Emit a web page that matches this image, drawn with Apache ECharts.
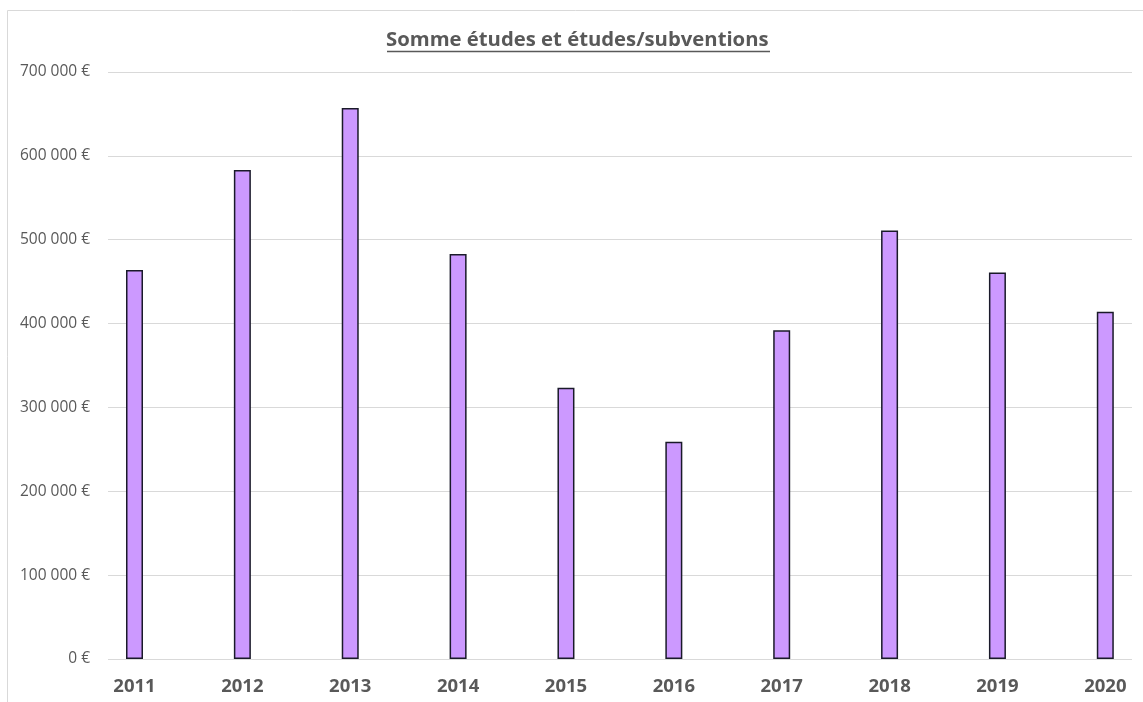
<!DOCTYPE html>
<html>
<head>
<meta charset="utf-8">
<script src="https://cdn.jsdelivr.net/npm/echarts@6/dist/echarts.min.js"></script>
<style>
  html, body { margin: 0; padding: 0; background: #fff; }
  #main { width: 1143px; height: 702px; }
</style>
</head>
<body>
<div id="main"></div>
<script>
  // 데이터
  var years = ['2011', '2012', '2013', '2014', '2015', '2016', '2017', '2018', '2019', '2020'];
  var sommes = [464000, 583000, 657000, 483000, 323500, 259000, 392000, 511000, 461000, 414000];
  var yMin = 0;
  var yMax = 700000;
  var yStep = 100000;

  function euro(v) {
    return String(v).replace(/\B(?=(\d{3})+(?!\d))/g, ' ') + ' €';
  }

  var myChart = echarts.init(document.getElementById('main'));

  var option = {
    animation: false,
    textStyle: { fontFamily: 'Open Sans' },
    graphic: [
      // 차트 테두리
      {
        type: 'rect',
        shape: { x: 7.5, y: 10.5, width: 1200, height: 800 },
        style: { fill: 'none', stroke: '#d9d9d9', lineWidth: 1 },
        silent: true
      },
      // 제목 밑줄
      {
        type: 'line',
        shape: { x1: 387, y1: 51.5, x2: 770, y2: 51.5 },
        style: { stroke: '#595959', lineWidth: 1.5 },
        silent: true
      }
    ],
    title: {
      text: 'Somme études et études/subventions',
      left: 386,
      top: 30,
      padding: 0,
      textStyle: { color: '#595959', fontSize: 20.3, fontWeight: 'bold', fontFamily: 'Open Sans' }
    },
    grid: [
      // 눈금선용
      { left: 108, right: 11, top: 72, bottom: 43 },
      // 막대용
      { left: 134.5, right: 37.7, top: 72, bottom: 43 }
    ],
    xAxis: [
      { gridIndex: 0, type: 'value', min: 0, max: 1, show: false },
      {
        gridIndex: 1,
        type: 'category',
        data: years,
        boundaryGap: false,
        axisLine: { show: false },
        axisTick: { show: false },
        axisLabel: { color: '#595959', fontSize: 18.5, fontWeight: 'bold', margin: 18 }
      }
    ],
    yAxis: [
      {
        gridIndex: 0,
        type: 'value',
        min: yMin,
        max: yMax,
        interval: yStep,
        axisLine: { show: false },
        axisTick: { show: false },
        axisLabel: { color: '#595959', fontSize: 15.5, margin: 18, formatter: euro },
        splitLine: { lineStyle: { color: '#d9d9d9', width: 1 } }
      },
      {
        gridIndex: 1,
        type: 'value',
        min: yMin,
        max: yMax,
        interval: yStep,
        show: false,
        splitLine: { show: false }
      }
    ],
    series: [
      {
        name: 'Somme',
        type: 'bar',
        xAxisIndex: 1,
        yAxisIndex: 1,
        barWidth: 17,
        itemStyle: { color: '#cc99ff', borderColor: '#1a1a2a', borderWidth: 1.5 },
        data: sommes
      }
    ]
  };

  myChart.setOption(option);
</script>
</body>
</html>
